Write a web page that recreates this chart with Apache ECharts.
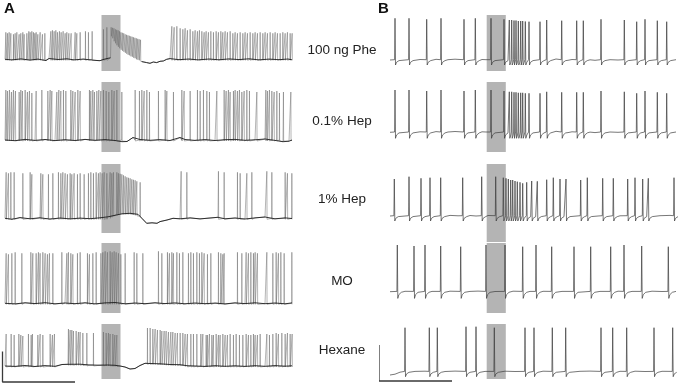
<!DOCTYPE html>
<html><head><meta charset="utf-8">
<script src="https://cdn.jsdelivr.net/npm/echarts/dist/echarts.min.js"></script>
<style>html,body{margin:0;padding:0;background:#fff}#c{width:680px;height:388px}</style>
</head><body><div id="c"></div>
<script>
// ---------------- DATA ----------------
// Panel A time unit: 0.1 s ; Panel B time unit: 10 ms ; voltage: mV relative to rest
const conditions = ['100 ng Phe', '0.1% Hep', '1% Hep', 'MO', 'Hexane'];
const stimA = [101.5, 120.5];
const stimB = [106.7, 125.8];

// spikes: [time, peak] or [time, peak, base]
const spikesA1 = [[5.7,27],[7.3,26],[9,27],[10.7,26],[13.3,25],[15,26],[16.7,27],[19,25],[20.7,26],[22.7,27],[24,25],[26.7,26],[28.7,28],[30,27],[31.7,28],[33.3,27],[34.7,26],[36,27],[37.7,25],[40,27],[42.3,25],[44.7,26],
 [50.7,28],[52.3,29],[54,28],[55.7,29],[57.3,27],[59.3,28],[61,27],[63,28],[65,26],[66.7,27],[68.7,26],[71,26],[75,27],[76.7,26],[80,27],[85.3,28],[88.3,27],[92,28],
 [103.3,30],[106.7,32],
 [111,32,24],[112.4,31.5,22],[113.8,31,19],[115.2,30,17],[116.6,29.5,15],[118,29,13.5],[119.4,28,12],[120.8,27,10.5],[122.2,26.5,9.5],[123.6,26,8.5],[125,25,7.5],[126.4,24.5,6.5],[127.8,24,5.5],[129.2,23.5,5],[130.6,23,4],[132,22.5,3.5],[133.4,22,2.5],[134.8,21.5,2],[136.2,21,1],[137.6,20.5,0.5],[139,20,0],[140.4,19.5,-1],
 [171.7,33],[174,32],[176.7,33],[180,31],[182.7,30],[185,31],[187.3,29],[190,30],[192.7,28],[195,29],[197.3,28],[199.3,29],[201.7,28],[204,27],[206,28],[208.3,27],[210.7,28],[213.3,27],[216,28],[218.3,27],[220.7,28],[222.7,27],[225,28],[227.3,27],[230,28],[232.7,26],[235,27],[237.3,26],[240,27],[242.7,26],[245,27],[247.3,26],[250,27],[252.7,26],[255,27],[257.3,26],[260,27],[262.7,26],[265,27],[267.3,26],[270,27],[272.7,26],[275,27],[277.3,26],[280,26],[282.7,27],[285,26],[287.3,27],[290,26],[292,26]];
const baseA1 = [[5,0],[12,-0.6],[21,0.4],[30,-0.8],[38,0.2],[46,-1.3],[49,0.8],[58,-0.2],[67,0.5],[74,-0.6],[83,0.2],[90,-0.5],[97,-1.2],[100,-1.4],[104,0],[108,1],[110.5,1.5],[141.7,-2.3],[146.7,-3.3],[150,-4],[153.3,-2.7],[156.7,-3.3],[160,-2],[163.3,-1.7],[166.7,0],[170,0.7],[179,-0.4],[189,0.3],[198,-0.6],[209,0.3],[219,-0.5],[229,0.4],[239,-0.3],[249,0.5],[259,-0.6],[269,0.2],[279,-0.4],[288,0.3],[292,-0.5]];

const spikesA2 = [[5.7,50],[7.3,49],[9.3,50],[11.3,48],[13.3,50],[15.3,49],[19,48],[20.7,50],[22.3,49],[25,50],[27.3,48],[29.3,49],[31.7,47],[36,49],[41.7,50],[47.7,49],[50,50],[51.7,49],[56.7,48],[58.7,50],[60.7,49],[63.3,50],[65.7,49],[70.7,50],[72.7,49],[75,48],[77.7,50],[80,49],[89.3,50],[90.7,49],[92.7,50],[94.3,48],[96.7,49],[98.7,50],[100.7,49],[103.3,50],[106,49],[108.7,48],[111.7,50],[114,49],[116.7,50],[121.7,48],[135,50],[139.3,49],[141.7,50],[144,49],[146.7,50],[149.3,48],[158.3,49],[165,50],[166.7,49],[173.3,48],[181.7,50],[184,49],[190,49],[197.3,50],[200,49],[203.3,50],[206.7,49],[209.3,48],[216.7,49],[224,50],[226,49],[228.3,50],[230,48],[233.3,49],[235,50],[237.3,49],[239.3,50],[241.7,48],[244,49],[246.7,50],[249.3,49],[256.7,48],[265.7,50],[267.3,49],[269.3,50],[271.7,49],[274,48],[276.7,49],[279.3,47],[283.3,48],[290.7,48]];
const baseA2 = [[5,0],[15,-0.7],[25,0.6],[35,-0.4],[45,0.5],[55,-0.6],[65,0.3],[75,-0.5],[85,0.6],[95,-0.3],[105,0.4],[115,-0.5],[122,-1.7],[127,-1.5],[133,2.5],[140,0.5],[150,-0.3],[160,0.4],[170,-0.5],[180,2.5],[185,0.5],[195,-0.4],[205,0.4],[215,-0.5],[225,0.3],[235,0.6],[245,-0.3],[255,0.2],[265,1],[275,-0.4],[283,-1.7],[289,-1.2],[292,0]];

const spikesA3 = [[6,46],[8.3,45],[10.7,46],[14,46],[22.7,45],[30,46],[31.7,44],[40.7,45],[42.7,44],[48.3,44],[52.7,45],[58.3,46],[60.7,45],[62.7,46],[65,45],[67.3,44],[70,45],[71.7,44],[74,45],[77.3,44],[80,45],[84,44],[88.3,45],[90.7,46],[93.3,45],[96,46],[98.3,45],[100,46],[102,45],[104,46],[106.7,45],[110,46,1],[111.7,45,2],[113.3,46,3],[116.7,46,4],[118.3,45,4.5],[120,44.5,5],[121.7,44,5],[123.3,43,5],[125,42,5],[126.7,41,5],[128.3,40.5,5],[130,40,5],[131.7,39,4.5],[133.3,38.5,4.5],[135,38,4],[136.7,37,3.5],[140,36,2],
 [181,47],[186.7,46],[218.3,47],[224,46],[237.3,46],[240,45],[246.7,45],[251.7,46],[266.7,47],[271.7,46],[285,46],[287.3,45],[291.7,45]];
const baseA3 = [[5,0],[12,-1],[20,0.7],[30,-0.5],[40,0.5],[50,-0.8],[60,0.3],[70,-0.6],[80,0.2],[90,-0.4],[100,0.5],[108,1.5],[115,3],[122,4.5],[130,5],[138,4],[142,0],[146.7,-5],[152,-4.5],[157,-5],[160,-3.3],[167,-1.7],[173,0],[180,-0.5],[190,0.4],[200,-0.6],[210,0.3],[218,1],[225,-0.5],[235,0.3],[245,-0.7],[255,0.4],[265,1.3],[275,-0.5],[285,0.4],[292,-0.2]];

const spikesA4 = [[6,50],[8.3,49],[11.7,50],[15,51],[21.7,50],[30.7,51],[32.7,50],[36,50],[38.3,51],[40,50],[42.7,51],[45,50],[47.3,49],[49.3,50],[52.7,50],[61.7,51],[66.7,50],[68.3,51],[70.7,50],[72.7,49],[77.3,50],[80,51],[87.3,50],[89.3,49],[92.7,50],[96,51],[100.7,50],[102.7,51],[105,52],[107.3,51],[110,52],[112,51],[114,52],[116,51],[118.3,50],[120.7,49],[125,50],[134,51],[136.7,50],[142.7,50],[158.3,52],[161.7,50],[167.3,51],[169.3,50],[171.7,51],[173.3,50],[176.7,51],[179.3,50],[182.7,51],[188.3,50],[190.7,51],[193.3,50],[196.7,51],[199.3,50],[201.7,51],[204,50],[207.3,49],[210.7,50],[218.3,51],[220.7,50],[222.7,49],[224,50],[237.3,51],[241.7,50],[246,51],[248.3,50],[250.7,51],[253.3,50],[255,51],[257.3,50],[266.7,51],[272.7,50],[276,51],[278.3,50],[280.7,51],[284,50],[291.7,51]];
const baseA4 = [[5,0],[15,-0.6],[25,0.5],[35,-0.3],[45,0.6],[55,-0.5],[65,0.3],[75,-0.4],[85,0.5],[95,-0.6],[105,0.4],[115,0.8],[125,-0.5],[135,0.3],[145,-0.4],[155,0.5],[165,-0.3],[175,0.4],[185,-0.5],[195,0.3],[205,-0.4],[215,0.2],[225,-0.6],[235,0.4],[245,-0.3],[255,0.5],[265,-0.4],[275,0.3],[285,-0.5],[292,0.4]];

const spikesA5 = [[6,32],[11,32],[14,31],[18.7,32],[20.7,31],[22.7,30],[28.3,32],[31,31],[32.3,32],[37.7,31],[40,32],[42.7,31],[50,32],[52.3,31],[54.3,32],[68.3,37,1.7],[70,36,1.7],[71.7,36,1.7],[73.3,35,1.7],[76,35,1.7],[78.3,34,1.7],[80,34,1.7],[82.7,33,1.5],[86.7,33,1],[93.3,33,1],[103.3,34,1],[106,33,1],[108.3,33,1],[110,32,1],[112.7,32,0.5],[114.7,31,0.5],[116.7,31,0.5],
 [147.3,38,2.7],[150,38,2.7],[152.7,37,2.5],[155,37,2.5],[157.3,36,2.3],[160,36,2.2],[161.7,35,2],[164,35,2],[166,35,1.8],[168.3,34,1.7],[170.7,34,1.5],[172.7,34,1.4],[175,33,1.3],[177.3,33,1.3],[180,33,1.3],[182.7,33,1],[185,32,0.5],[187.3,32],[190.7,32],[193.3,32],[196.7,32],[200.7,32],[202.7,32],[206,31],[207.3,31],[209.3,32],[211.7,31],[213.3,31],[216,32],[218.3,31],[220,31],[222.7,32],[225,31],[227.3,31],[230,32],[233.3,31],[236,32],[239.3,31],[242.7,31],[246,32],[248.3,31],[250.7,31],[253.3,32],[255,31],[257.3,31],[260,32],[266.7,32],[269.3,31],[272.7,32],[276,33],[278.3,32],[281.7,33],[285,32],[287.3,33],[290,32],[292,32]];
const baseA5 = [[5,0],[15,-0.4],[25,0.5],[35,-0.5],[45,0.4],[55,-0.3],[62,1.5],[68,1.7],[80,1.8],[90,1],[100,0.8],[108,1],[115,0.7],[120,0],[125,-1],[130,-3],[135,-2.5],[140,0.5],[145,2.7],[150,2.5],[160,2.2],[170,1.5],[180,1.3],[187,0.3],[195,0],[205,-0.4],[215,0.3],[225,-0.3],[235,0.2],[245,-0.4],[255,0.3],[265,-0.3],[275,0.4],[285,-0.2],[292,0.2]];

const spikesB1 = [[15,41.7],[29,41.7],[46.7,40.7],[61,41.7],[84,40.7],[95.3,41.7],[111,41.7],[124,40.7],[129.3,40],[131.7,40],[134,39.5],[136,39.5],[138.3,39],[140.7,39],[142.7,39],[145.3,38.5],[149,38.3],[160,38.3],[166.7,40],[181.7,39.3],[196.7,39.3],[203.3,39.3],[221,40.7],[244.3,40],[256.7,38.3],[265,40.7],[277.3,39.3],[286.7,38.3]];
const baseB1 = [[10,0],[20,0.7],[35,-0.3],[40,0.5],[52,-0.5],[56,0.7],[68,0.3],[75,0.8],[90,-0.2],[102,0.5],[106,0.3],[117,-0.5],[152,0],[155,0.8],[172,0.3],[176,1],[188,-0.3],[192,0.5],[210,0.2],[215,-0.3],[230,0.3],[238,0],[250,0.3],[270,0.5],[282,-0.3],[292,0.5],[296,0.3]];
const spikesB2 = [[15,42.3],[29,42.3],[46.7,41.3],[61,42.3],[84,41.3],[95.3,42.3],[111,42.3],[124,41.3],[129.3,40.5],[131.7,40.5],[134,40],[136,40],[138.3,39.5],[140.7,39.5],[142.7,39.5],[145.3,39],[149,39],[160,39],[166.7,40.5],[181.7,40],[196.7,40],[203.3,40],[221,41.3],[244.3,40.5],[256.7,39],[265,41.3],[277.3,40],[286.7,39]];
const baseB2 = [[10,0],[20,0.7],[35,-0.3],[40,0.5],[52,-0.5],[56,0.7],[68,0.3],[75,0.8],[90,-0.2],[102,0.5],[106,0.3],[117,-0.5],[152,0],[155,0.8],[172,0.3],[176,1],[188,-0.3],[192,0.5],[210,0.2],[215,-0.3],[230,0.3],[238,0],[250,0.3],[270,0.5],[282,-0.3],[292,0.5],[296,0.3]];
const spikesB3 = [[14.3,37],[29,39.3],[41,37.7],[50,38.3],[60.7,38.3],[82.7,38.3],[101.7,39.3],[115.7,39.3],[123.3,38.3],[126,37.7],[128.3,37],[130.7,36],[132.7,36],[135,35],[137.3,34.3],[140,33.7],[142.7,32.7],[146.7,33.7],[151.7,35],[157.3,34.7],[166.7,36.3],[173.3,38.3],[180,37],[186,37],[200.7,36],[207.3,38.3],[222.7,37.7],[233.3,37.7],[247.7,37],[255,38.3],[262.7,37],[268.3,37.7],[294,38.3]];
const baseB3 = [[10,0],[20,0.5],[35,-0.4],[45,0.5],[55,0.2],[70,0.6],[78,0.2],[90,0.5],[96,0],[108,0.5],[152,0.3],[162,0],[176,0.4],[192,0.6],[212,0.3],[218,0],[228,0.5],[240,0.2],[272,0.5],[280,0.3],[290,0.6],[296,0]];
const spikesB4 = [[17.3,46.7],[34,45.7],[45,46.7],[60.7,45.7],[80.7,45],[106,46.7],[125,46.7],[142.7,45],[156,46.7],[171.7,45],[194,45],[210.7,45],[230.7,45],[244,46.7],[261.7,45.7],[288.3,45]];
const baseB4 = [[10,0],[25,0.4],[40,0.6],[52,0.3],[70,0.5],[90,0.3],[98,0.6],[115,0.2],[133,0.5],[150,0.3],[163,0.4],[182,0.3],[200,0.6],[220,0.3],[238,0.5],[252,0.3],[272,0.5],[282,0.2],[296,0.3]];
const spikesB5 = [[25,44],[49.3,44],[57.3,44],[86,45],[96,45],[114.3,44],[145,44],[154,44],[172.3,44],[185.7,44],[221,44],[232.7,44],[246.7,44],[274,44],[292.7,44]];
const baseB5 = [[10,-3.3],[15,-2.5],[20,-0.5],[35,0.3],[45,0.5],[65,0.2],[75,0.6],[90,0],[105,0.3],[125,0.5],[135,0.2],[150,0.3],[163,0.5],[178,0.2],[200,0.4],[210,0.6],[227,0.3],[240,0.4],[255,0.5],[265,0.2],[282,0.4],[296,0]];

// scale bars (time units of each panel, mV)
const scaleA = {t: 2.5, v: -16, dt: 72.5, dv: 30.5};
const scaleB = {t: -1, v: -9.3, dt: 73, dv: 36};

// ------------- BUILD ----------------
function traceA(spikes, knots) {
  const pts = [];
  spikes.forEach(s => { const b = s.length > 2 ? s[2] : 0;
    pts.push([s[0], b], [s[0] + 0.15, s[1]], [s[0] + 0.35, b - 1]); });
  const keep = knots.filter(([x]) => !spikes.some(s => x > s[0] - 0.3 && x < s[0] + 0.6));
  return pts.concat(keep).sort((a, b) => a[0] - b[0]);
}
// baseline-only polyline (broken across long gaps such as the burst)
function baseLine(knots) {
  const out = [];
  knots.forEach((k, i) => {
    if (i > 0 && k[0] - knots[i - 1][0] > 15) out.push([k[0] - 0.01, null]);
    out.push(k);
  });
  return out;
}
function traceB(spikes, knots, dip) {
  const pts = [];
  spikes.forEach((s, i) => {
    const t = s[0], pk = s[1], b = s.length > 2 ? s[2] : 0;
    const next = i + 1 < spikes.length ? spikes[i + 1][0] : Infinity;
    [[-0.4, b + 0.3], [0, pk], [0.5, dip], [1.5, dip * 0.45], [4, -0.6]].forEach(([dt, v]) => {
      if (dt <= 0 || t + dt < next - 0.5) pts.push([t + dt, v]);
    });
  });
  const keep = knots.filter(([x]) => !spikes.some(s => x > s[0] - 0.8 && x < s[0] + 4.2));
  return pts.concat(keep).sort((a, b) => a[0] - b[0]);
}

const rowsBox = [[15, 71], [82, 152], [164, 233], [243, 313], [324, 379]];
const rowsBoxB = [[15, 71], [82, 152], [164, 242], [243, 313], [324, 379]];
const basePxA = [59.3, 140, 218.3, 303.3, 366];
const basePxB = [60, 132.3, 216, 291.7, 371.7];
const labelY = [50, 121, 199, 281, 350];

const rowsA = [[spikesA1, baseA1], [spikesA2, baseA2], [spikesA3, baseA3], [spikesA4, baseA4], [spikesA5, baseA5]];
const rowsB = [[spikesB1, baseB1, -5], [spikesB2, baseB2, -6], [spikesB3, baseB3, -5], [spikesB4, baseB4, -6.7], [spikesB5, baseB5, -5]];

const grid = [], xAxis = [], yAxis = [], series = [];
function addRow(left, box, basePx, data, stim, lw, color, baseData, extra) {
  const gi = grid.length;
  grid.push({left: left, top: box[0], width: 300, height: box[1] - box[0]});
  xAxis.push({type: 'value', gridIndex: gi, min: 0, max: 300, show: false});
  yAxis.push({type: 'value', gridIndex: gi, min: -(box[1] - basePx), max: basePx - box[0], show: false});
  series.push({type: 'line', xAxisIndex: gi, yAxisIndex: gi, data: [], silent: true, z: 1,
    markArea: {silent: true, itemStyle: {color: '#b4b4b4'}, data: [[{xAxis: stim[0]}, {xAxis: stim[1]}]]}});
  series.push({type: 'line', xAxisIndex: gi, yAxisIndex: gi, data: data, showSymbol: false, silent: true, z: 3,
    lineStyle: {color: color, width: lw}});
  if (baseData) series.push({type: 'line', xAxisIndex: gi, yAxisIndex: gi, data: baseData, showSymbol: false, silent: true, z: 4,
    connectNulls: false, lineStyle: {color: '#1e1e1e', width: 0.9}});
  if (extra) series.push(Object.assign({type: 'line', xAxisIndex: gi, yAxisIndex: gi, showSymbol: false, silent: true, clip: false, z: 3,
    lineStyle: {color: '#3a3a3a', width: 1.3}}, extra));
}
rowsA.forEach((r, i) => addRow(0, rowsBox[i], basePxA[i], traceA(r[0], r[1]), stimA, 0.5, '#6a6a6a', baseLine(r[1]),
  i === 4 ? {data: [[scaleA.t, scaleA.v + scaleA.dv], [scaleA.t, scaleA.v], [scaleA.t + scaleA.dt, scaleA.v]]} : null));
rowsB.forEach((r, i) => addRow(380, rowsBoxB[i], basePxB[i], traceB(r[0], r[1], r[2]), stimB, 0.7, '#3c3c3c', null,
  i === 4 ? {data: [[scaleB.t, scaleB.v + scaleB.dv], [scaleB.t, scaleB.v], [scaleB.t + scaleB.dt, scaleB.v]]} : null));

const graphic = conditions.map((c, i) => ({type: 'text', x: 342, y: labelY[i],
  style: {text: c, fill: '#222', font: '13.5px "Liberation Sans", Arial, sans-serif', textAlign: 'center', textVerticalAlign: 'middle'}}));
graphic.push({type: 'text', x: 4, y: 9, style: {text: 'A', fill: '#111', font: 'bold 15px "Liberation Sans", Arial, sans-serif', textAlign: 'left', textVerticalAlign: 'middle'}});
graphic.push({type: 'text', x: 378, y: 9, style: {text: 'B', fill: '#111', font: 'bold 15px "Liberation Sans", Arial, sans-serif', textAlign: 'left', textVerticalAlign: 'middle'}});

const chart = echarts.init(document.getElementById('c'), null, {renderer: 'canvas'});
chart.setOption({animation: false, grid, xAxis, yAxis, series, graphic});
</script></body></html>
